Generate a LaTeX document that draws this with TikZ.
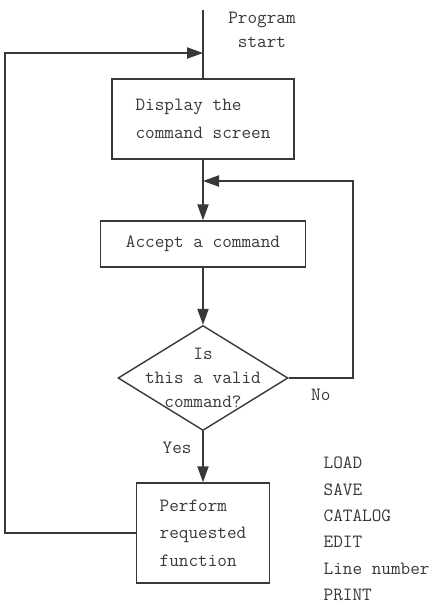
\documentclass[tikz,border=0pt]{standalone}
\usepackage{fontspec}
\usetikzlibrary{shapes.geometric,arrows.meta}
\definecolor{ink}{rgb}{0.22,0.22,0.22}
\newcommand{\flowfont}{\ttfamily\fontsize{13.3pt}{19.5pt}\selectfont}
\newcommand{\decfont}{\ttfamily\fontsize{13.3pt}{17pt}\selectfont}
\newcommand{\listfont}{\ttfamily\fontsize{13.3pt}{18.8pt}\selectfont}

\begin{document}
\begin{tikzpicture}[node distance=30mm, color=ink, line width=1pt, >={Triangle[length=4mm,width=2.8mm]}, every node/.style={font=\flowfont}, block/.style={rectangle, draw, align=left}, decision/.style={diamond, draw, inner sep=0pt, minimum width=42.5mm, minimum height=26.25mm}]

    \useasboundingbox (0,0) rectangle (11.1,-15.15);

    \node[coordinate] (start) at (5.075,-0.25) {};
    \node[coordinate, below of=start, node distance=10.75mm] (entry) {};
    \node[block, below of=start, node distance=27.25mm, minimum width=45.5mm, minimum height=20mm] (display) {Display the\\command screen};
    \node[coordinate, below of=display, node distance=15.5mm] (join) {};
    \node[block, below of=display, node distance=31.25mm, minimum width=51.25mm, minimum height=11.5mm] (accept) {Accept a command};
    \node[decision, below of=accept, node distance=33.5mm, label={[align=center, font=\decfont]center:{Is\\this a valid\\command?}}] (valid) {};
    \node[coordinate, right of=valid, node distance=37.5mm] (noturn) {};
    \node[block, below of=valid, node distance=38.75mm, minimum width=33.25mm, minimum height=25mm] (perform) {Perform\\requested\\function};
    \node[coordinate, left of=entry, node distance=49.5mm] (back) {};
    \node[right of=entry, node distance=14.75mm, yshift=5.85mm, align=center, font=\decfont] (progstart) {Program\\start};
    \node[right of=perform, node distance=30mm, anchor=west, yshift=1mm, inner sep=0pt, align=left, font=\listfont] (cmds) {LOAD\\SAVE\\CATALOG\\EDIT\\Line number\\PRINT};

    \draw (start) -- (display);
    \draw[->] (display) -- (accept);
    \draw[->] (accept) -- (valid);
    \draw[->] (valid) -- node[left, pos=0.32, xshift=-1.5mm] {Yes} (perform);
    \draw[->] (valid.east) -- node[below, pos=0.5, yshift=-1.5mm] {No} (noturn) |- (join);
    \draw[->] (perform.west) -| (back) -- (entry);

  \end{tikzpicture}
\end{document}
